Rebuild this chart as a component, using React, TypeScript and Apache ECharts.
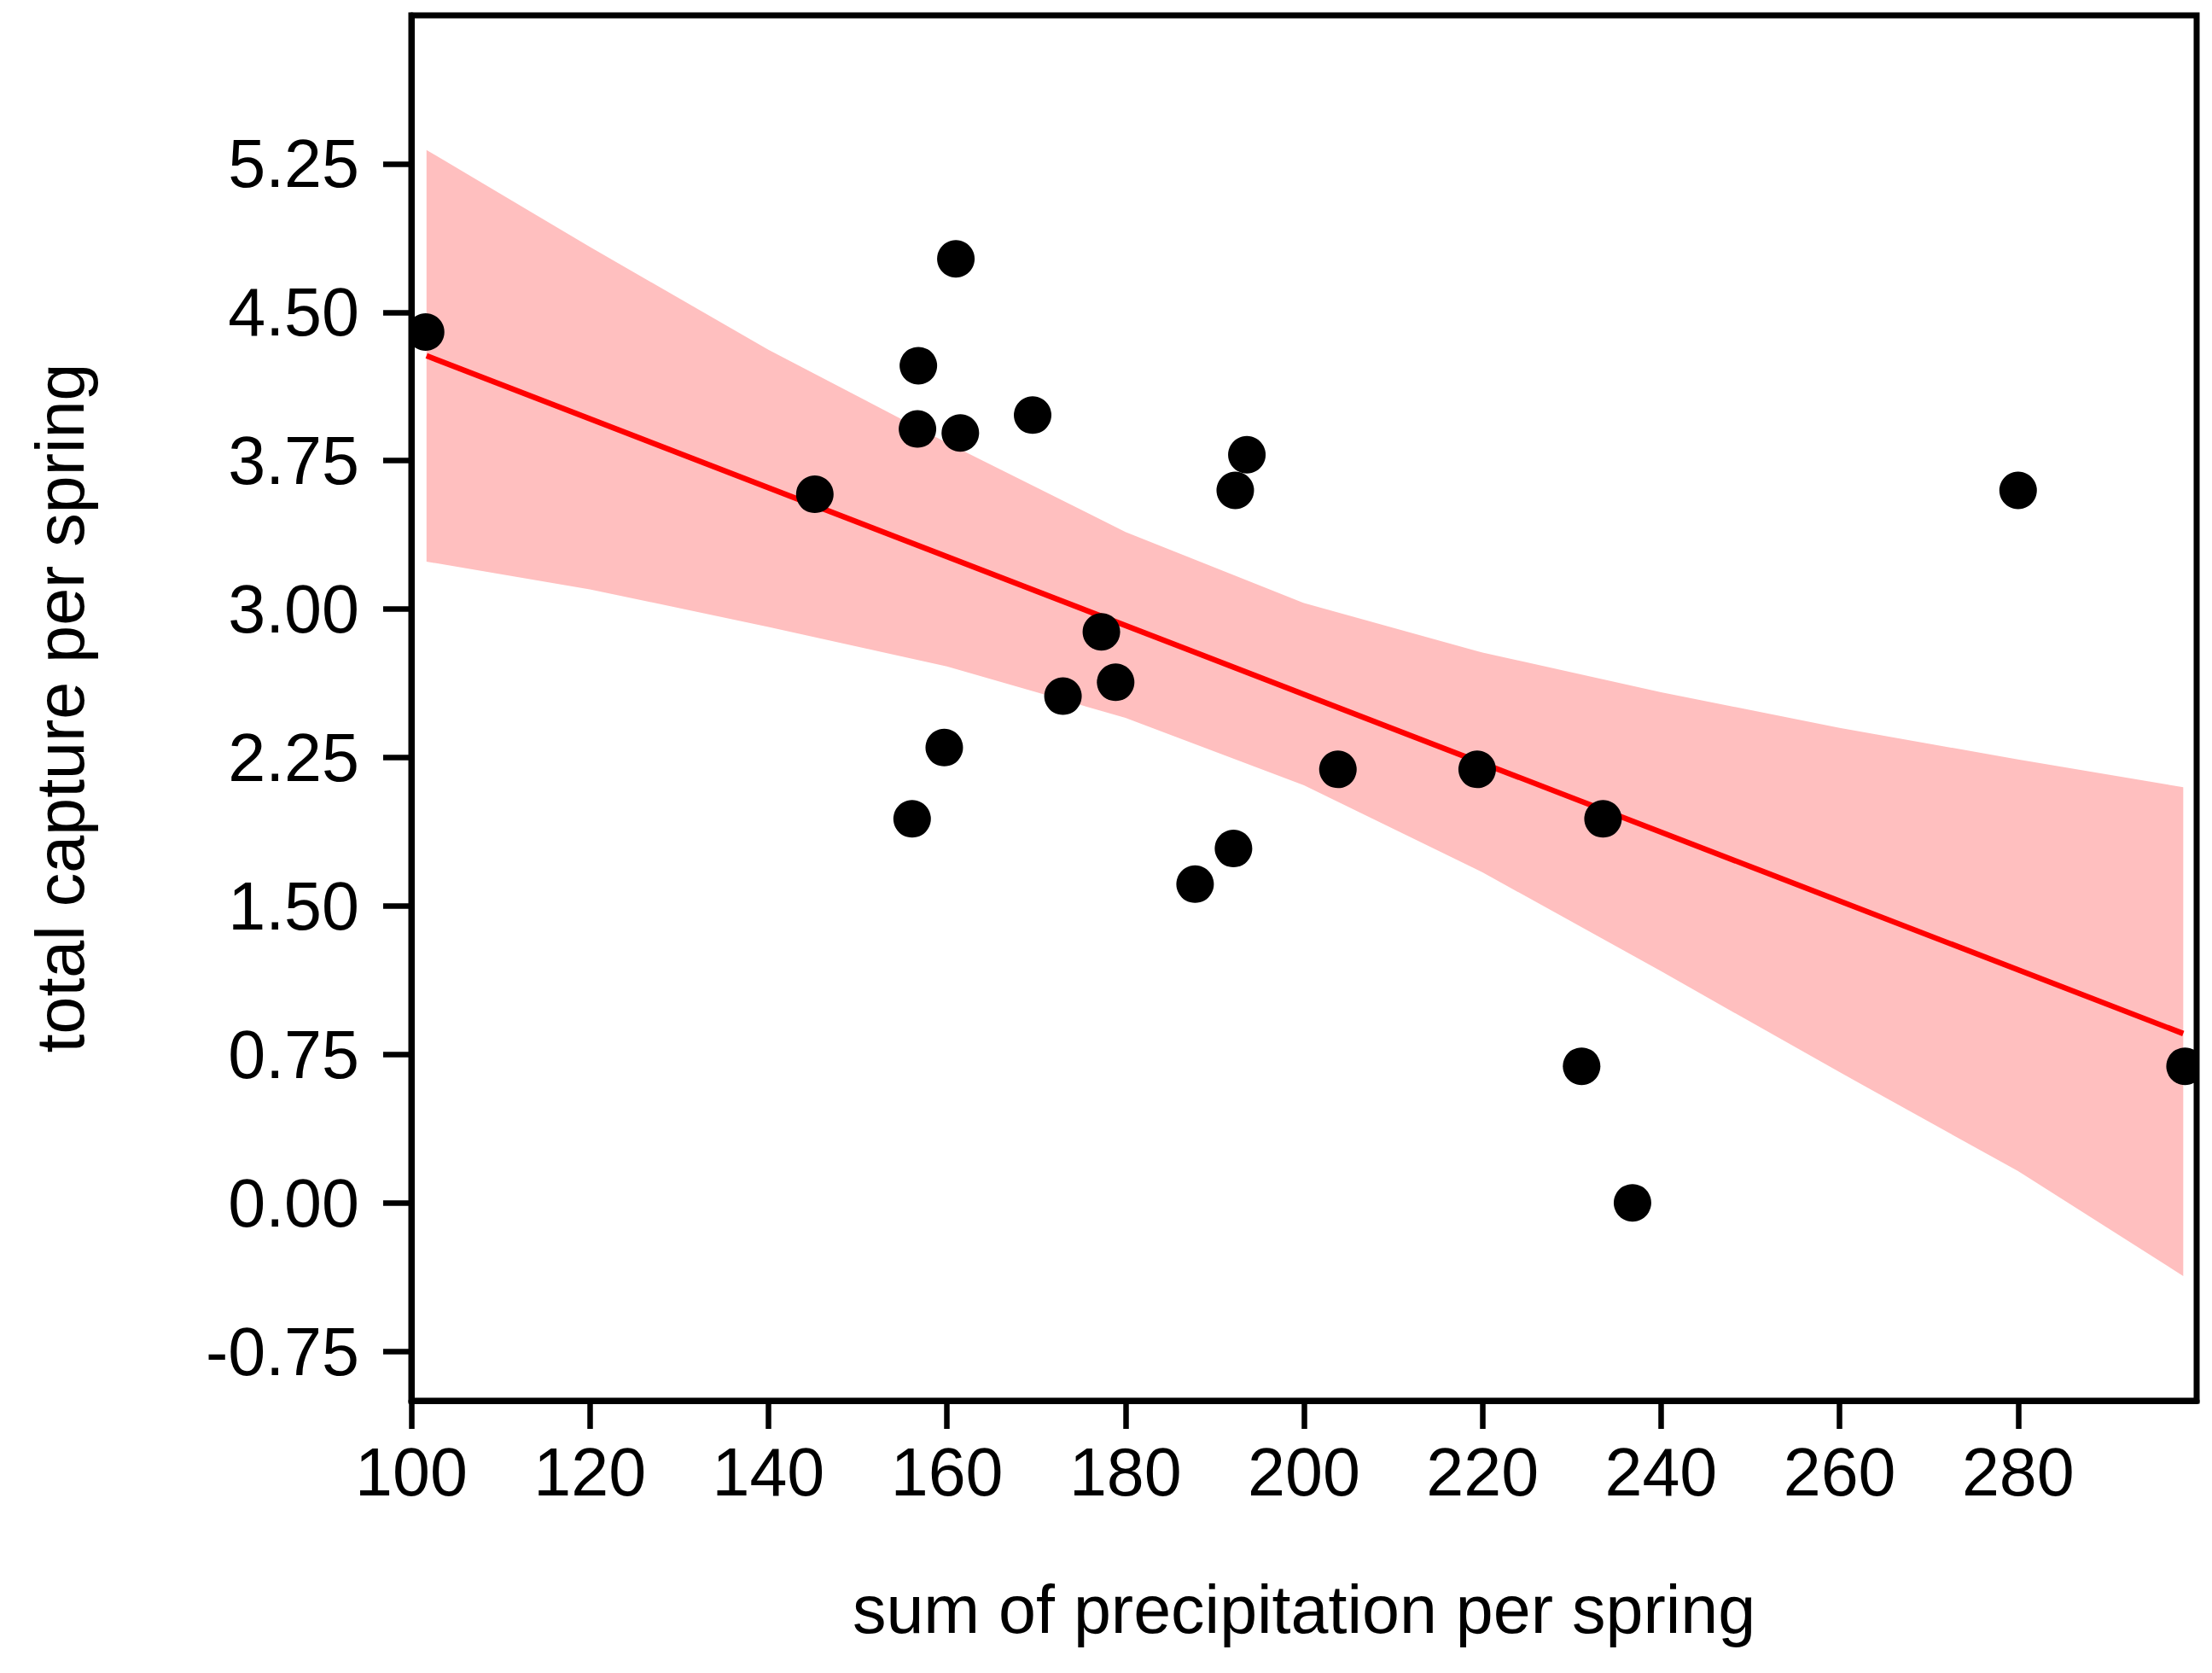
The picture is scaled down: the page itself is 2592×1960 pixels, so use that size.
import React, { useEffect, useRef } from "react";
import * as echarts from "echarts";

// scatter observations: precipitation (x) vs capture (y)
const precipitation = [101.6, 161.0, 156.8, 156.7, 161.5, 169.6, 145.2, 193.6, 192.3, 280.0, 177.3, 178.9, 173.0, 159.7, 156.1, 203.8, 219.4, 233.5, 192.1, 187.8, 231.1, 236.8, 298.7];
const capture = [4.40, 4.77, 4.23, 3.91, 3.89, 3.98, 3.58, 3.78, 3.60, 3.60, 2.885, 2.63, 2.56, 2.30, 1.94, 2.19, 2.19, 1.94, 1.79, 1.61, 0.69, 0.00, 0.69];

// regression line endpoints
const fitX = [101.7, 298.5];
const fitY = [4.28, 0.855];

// confidence band
const bandX = [101.7, 120, 140, 160, 180, 200, 220, 240, 260, 280, 298.5];
const bandLower = [3.24, 3.10, 2.91, 2.71, 2.45, 2.11, 1.67, 1.17, 0.66, 0.16, -0.37];
const bandUpper = [5.32, 4.83, 4.31, 3.84, 3.39, 3.03, 2.78, 2.58, 2.40, 2.24, 2.10];

// tick labels
const xTicks = [100, 120, 140, 160, 180, 200, 220, 240, 260, 280];
const yTicks = [-0.75, 0, 0.75, 1.5, 2.25, 3, 3.75, 4.5, 5.25];

const FONT = "Liberation Sans";

export default function App() {
  const ref = useRef<HTMLDivElement>(null);
  useEffect(() => {
    document.body.style.margin = "0";
    if (!ref.current) return;
    const chart = echarts.init(ref.current, null, { renderer: "svg" });
    const W = 2592;
    const gridLeft = 482;
    const gridRight = 18;
    const gridTop = 18;
    const gridBottom = 319;
    const option: any = {
      animation: false,
      backgroundColor: "#ffffff",
      grid: {
        left: gridLeft,
        right: gridRight,
        top: gridTop,
        bottom: gridBottom,
        show: true,
        borderColor: "#000",
        borderWidth: 7,
        backgroundColor: "transparent",
        z: 10,
      },
      graphic: [
        { type: "rect", z: 5, silent: true, shape: { x: 0, y: 0, width: gridLeft - 3, height: 1960 }, style: { fill: "#fff" } },
        { type: "rect", z: 5, silent: true, shape: { x: W - gridRight + 3, y: 0, width: gridRight, height: 1960 }, style: { fill: "#fff" } },
      ],
      xAxis: {
        type: "value",
        min: 100,
        max: 300,
        z: 10,
        name: "sum of precipitation per spring",
        nameLocation: "middle",
        nameGap: 205,
        nameTextStyle: { fontFamily: FONT, fontSize: 79, color: "#000" },
        axisLine: { show: true, onZero: false, lineStyle: { color: "#000", width: 7 } },
        axisTick: { show: true, length: 33, lineStyle: { color: "#000", width: 6.5 }, customValues: xTicks },
        axisLabel: {
          fontFamily: FONT,
          fontSize: 79,
          color: "#000",
          margin: 44,
          customValues: xTicks,
          formatter: (v: number) => String(v),
        },
        splitLine: { show: false },
      },
      yAxis: {
        type: "value",
        min: -1,
        max: 6,
        z: 10,
        name: "total capture per spring",
        nameLocation: "middle",
        nameGap: 372,
        nameRotate: 90,
        nameTextStyle: { fontFamily: FONT, fontSize: 79, color: "#000" },
        axisLine: { show: true, onZero: false, lineStyle: { color: "#000", width: 7 } },
        axisTick: { show: true, length: 33, lineStyle: { color: "#000", width: 6.5 }, customValues: yTicks },
        axisLabel: {
          fontFamily: FONT,
          fontSize: 79,
          color: "#000",
          margin: 61,
          customValues: yTicks,
          formatter: (v: number) => v.toFixed(2),
        },
        splitLine: { show: false },
      },
      series: [
        {
          type: "custom",
          name: "band",
          z: 1,
          silent: true,
          data: bandX.map((x, i) => [x, bandLower[i], bandUpper[i]]),
          encode: { x: 0, y: [1, 2] },
          renderItem: (params: any, api: any) => {
            if (params.dataIndex !== 0) return null;
            const pts: number[][] = [];
            for (let i = 0; i < bandX.length; i++) pts.push(api.coord([bandX[i], bandUpper[i]]));
            for (let i = bandX.length - 1; i >= 0; i--) pts.push(api.coord([bandX[i], bandLower[i]]));
            return {
              type: "polygon",
              shape: { points: pts },
              style: { fill: "#FFBFBF", stroke: "none" },
            };
          },
        },
        {
          type: "line",
          name: "fit",
          z: 2,
          data: fitX.map((x, i) => [x, fitY[i]]),
          symbol: "none",
          lineStyle: { color: "#FF0000", width: 6.5 },
          silent: true,
        },
        {
          type: "scatter",
          name: "obs",
          z: 3,
          clip: false,
          data: precipitation.map((x, i) => [x, capture[i]]),
          symbol: "circle",
          symbolSize: 44,
          itemStyle: { color: "#000", opacity: 1 },
        },
      ],
    };
    chart.setOption(option);
    return () => chart.dispose();
  }, []);
  return <div ref={ref} style={{ width: 2592, height: 1960 }} />;
}
